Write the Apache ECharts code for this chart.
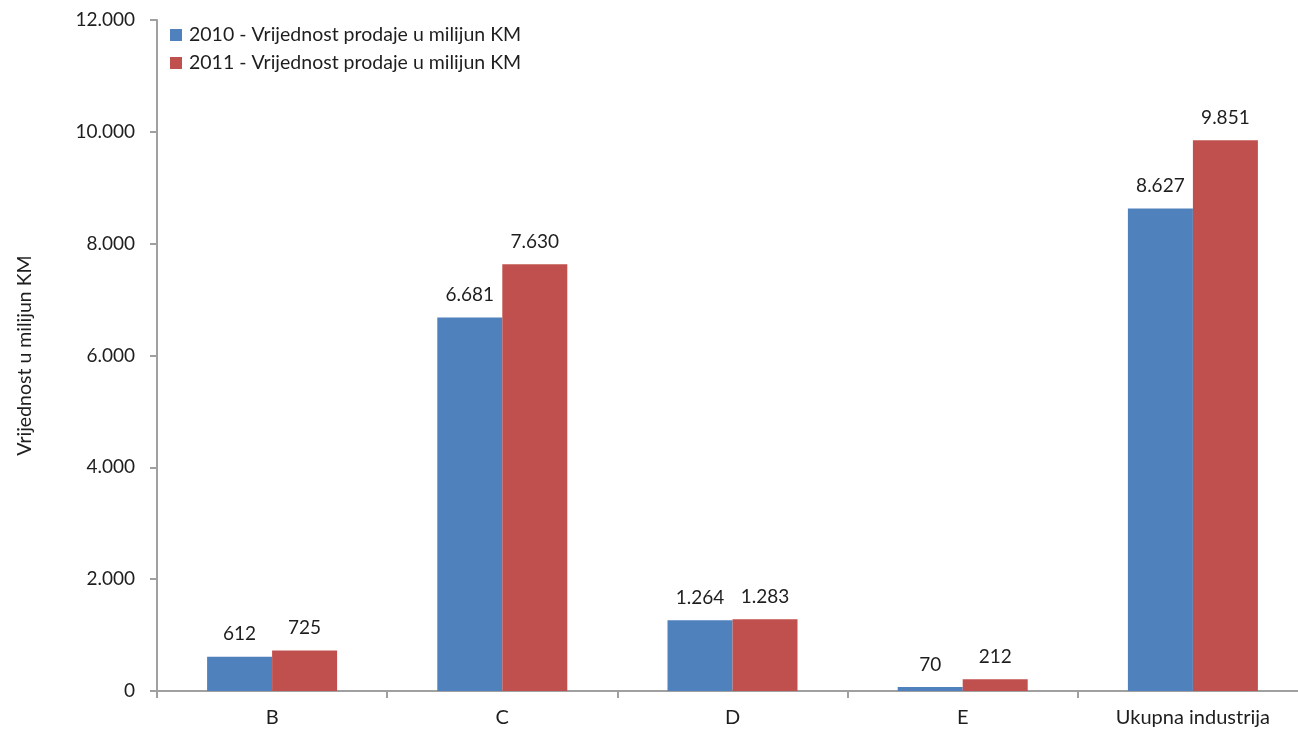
<!DOCTYPE html>
<html><head><meta charset="utf-8">
<script src="https://cdn.jsdelivr.net/npm/echarts@6/dist/echarts.min.js"></script>
<style>html,body{margin:0;padding:0;background:#fff}#c{width:1298px;height:731px}</style>
</head><body><div id="c"></div>
<script>
const categories = ['B', 'C', 'D', 'E', 'Ukupna industrija'];
const values2010 = [612, 6681, 1264, 70, 8627];
const values2011 = [725, 7630, 1283, 212, 9851];
const seriesNames = ['2010 - Vrijednost prodaje u milijun KM', '2011 - Vrijednost prodaje u milijun KM'];
const yAxisName = 'Vrijednost u milijun KM';

const fmt = v => String(v).replace(/\B(?=(\d{3})+(?!\d))/g, '.');
const FONT = 'Lato';
const TXT = '#1e1e1e';
const chart = echarts.init(document.getElementById('c'), null, {renderer: 'canvas'});
const lbl = {show: true, position: 'top', distance: 13, color: TXT, fontSize: 19, fontFamily: FONT, formatter: p => fmt(p.value)};
chart.setOption({
  animation: false,
  textStyle: {fontFamily: FONT},
  legend: {
    orient: 'vertical', left: 165, top: 20, itemWidth: 12, itemHeight: 12, itemGap: 8,
    icon: 'rect',
    textStyle: {fontSize: 19.5, color: TXT, fontFamily: FONT, padding: [0, 0, 0, 2]},
    data: seriesNames
  },
  grid: {left: 157, top: 20, width: 1151, height: 671, containLabel: false, outerBoundsMode: 'none'},
  xAxis: {
    type: 'category', data: categories,
    axisLine: {lineStyle: {color: '#a0a0a0', width: 2}},
    axisTick: {show: true, length: 7, lineStyle: {color: '#a0a0a0', width: 2}},
    axisLabel: {color: TXT, fontSize: 20, fontFamily: FONT, margin: 17}
  },
  yAxis: {
    type: 'value', min: 0, max: 12000, interval: 2000,
    name: yAxisName, nameLocation: 'middle', nameGap: 122, nameRotate: 90,
    nameTextStyle: {fontSize: 19.5, color: TXT, fontFamily: FONT},
    axisLine: {show: true, lineStyle: {color: '#a0a0a0', width: 2}},
    axisTick: {show: true, length: 7, lineStyle: {color: '#a0a0a0', width: 2}},
    splitLine: {show: false},
    axisLabel: {color: TXT, fontSize: 19, fontFamily: FONT, margin: 22, formatter: v => fmt(v)}
  },
  series: [
    {name: seriesNames[0], type: 'bar', data: values2010, barWidth: 65, barGap: '0%', itemStyle: {color: '#4F81BD'}, label: lbl},
    {name: seriesNames[1], type: 'bar', data: values2011, barWidth: 65, barGap: '0%', itemStyle: {color: '#C0504D'}, label: lbl}
  ]
});
</script></body></html>
